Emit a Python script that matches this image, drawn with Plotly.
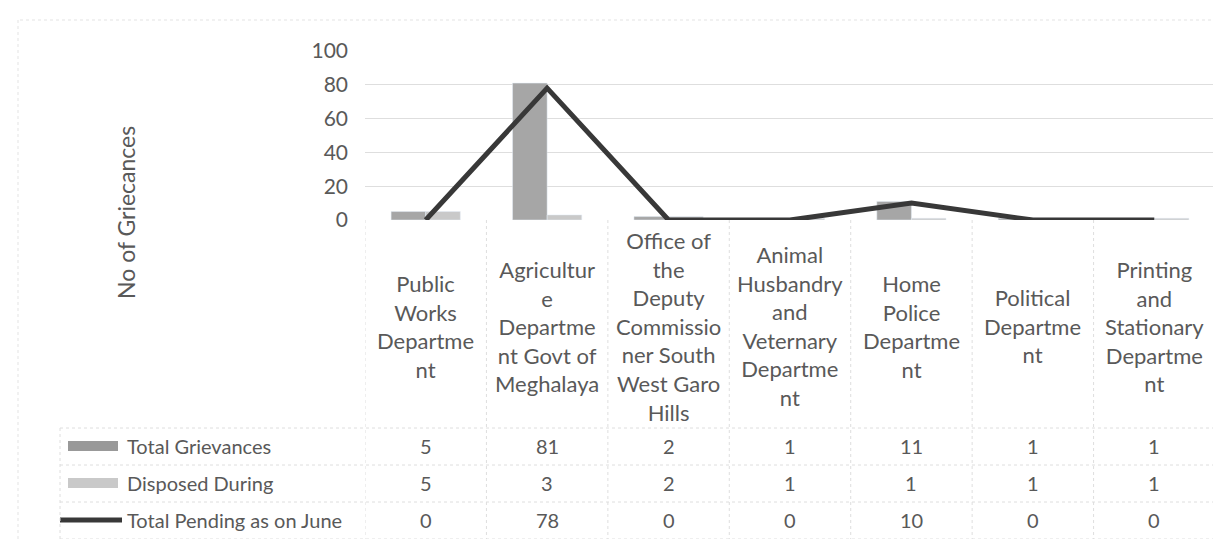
import plotly.graph_objects as go

categories = [
    "Public<br>Works<br>Departme<br>nt",
    "Agricultur<br>e<br>Departme<br>nt Govt of<br>Meghalaya",
    "Office of<br>the<br>Deputy<br>Commissio<br>ner South<br>West Garo<br>Hills",
    "Animal<br>Husbandry<br>and<br>Veternary<br>Departme<br>nt",
    "Home<br>Police<br>Departme<br>nt",
    "Political<br>Departme<br>nt",
    "Printing<br>and<br>Stationary<br>Departme<br>nt",
]
total_grievances = [5, 81, 2, 1, 11, 1, 1]
disposed_during = [5, 3, 2, 1, 1, 1, 1]
total_pending = [0, 78, 0, 0, 10, 0, 0]
series_names = ["Total Grievances", "Disposed During", "Total Pending as on June"]
y_ticks = [0, 20, 40, 60, 80, 100]

W, H = 1221, 539
L, R, T, B = 357, 1207, 43, 212  # plot area pixel bounds
FONT = "Lato, Calibri, Carlito, sans-serif"
TXT = "#595959"
GRID = "#dedede"
C_TOTAL = "#a6a6a6"
C_DISP = "#c9c9c9"
C_LINE = "#383838"

def px(xpix):
    return (xpix - L) / (R - L)

def py(ypix):
    return (B - ypix) / (B - T)

xs = list(range(len(categories)))

fig = go.Figure()
fig.add_trace(go.Bar(x=xs, y=total_grievances, name=series_names[0], marker_color=C_TOTAL))
fig.add_trace(go.Bar(x=xs, y=disposed_during, name=series_names[1], marker_color=C_DISP))
fig.add_trace(go.Scatter(x=xs, y=total_pending, name=series_names[2], mode="lines",
                         line=dict(color=C_LINE, width=5)))

shapes = []
annotations = []

# category labels
for i, c in enumerate(categories):
    annotations.append(dict(x=i, y=py(318), xref="x", yref="paper", text=c, showarrow=False,
                            xanchor="center", yanchor="middle", align="center",
                            font=dict(family=FONT, size=22, color=TXT)))

# table rows
row_y = [438, 475, 512]
row_vals = [total_grievances, disposed_during, total_pending]
for r, (yy, vals) in enumerate(zip(row_y, row_vals)):
    for i, v in enumerate(vals):
        annotations.append(dict(x=i, y=py(yy), xref="x", yref="paper", text=str(v), showarrow=False,
                                xanchor="center", yanchor="middle",
                                font=dict(family=FONT, size=20, color=TXT)))
    annotations.append(dict(x=px(117), y=py(yy), xref="paper", yref="paper", text=series_names[r],
                            showarrow=False, xanchor="left", yanchor="middle",
                            font=dict(family=FONT, size=20, color=TXT)))

# legend keys
shapes.append(dict(type="rect", xref="paper", yref="paper", x0=px(60), x1=px(110),
                   y0=py(433), y1=py(443), fillcolor="#999999", line=dict(width=0)))
shapes.append(dict(type="rect", xref="paper", yref="paper", x0=px(60), x1=px(110),
                   y0=py(470), y1=py(480), fillcolor=C_DISP, line=dict(width=0)))
shapes.append(dict(type="line", xref="paper", yref="paper", x0=px(52), x1=px(114),
                   y0=py(512), y1=py(512), line=dict(color=C_LINE, width=5)))

# table grid lines
for yy in [420, 457, 494, 531]:
    shapes.append(dict(type="line", xref="paper", yref="paper", x0=px(52), x1=px(R),
                       y0=py(yy), y1=py(yy), line=dict(color=GRID, width=1, dash="dot")))
shapes.append(dict(type="line", xref="paper", yref="paper", x0=px(52), x1=px(52),
                   y0=py(420), y1=py(531), line=dict(color=GRID, width=1, dash="dot")))
for k in range(len(categories) + 1):
    shapes.append(dict(type="line", xref="x", yref="paper", x0=k - 0.5, x1=k - 0.5,
                       y0=0, y1=py(531), line=dict(color=GRID, width=1, dash="dot")))

# faint outer chart border (top and left)
shapes.append(dict(type="line", xref="paper", yref="paper", x0=px(12), x1=px(1215),
                   y0=py(12), y1=py(12), line=dict(color="#e3e3e3", width=1, dash="dot")))
shapes.append(dict(type="line", xref="paper", yref="paper", x0=px(10), x1=px(10),
                   y0=py(12), y1=py(536), line=dict(color="#e3e3e3", width=1, dash="dot")))

# y axis title
annotations.append(dict(x=px(118), y=py(205), xref="paper", yref="paper", text="No of Griecances",
                        showarrow=False, textangle=-90, xanchor="center", yanchor="middle",
                        font=dict(family=FONT, size=23, color=TXT)))

fig.update_layout(
    width=W, height=H, autosize=False,
    margin=dict(l=L, r=W - R, t=T, b=H - B, pad=0),
    paper_bgcolor="white", plot_bgcolor="white",
    barmode="group", bargap=0.43, bargroupgap=0,
    showlegend=False,
    shapes=shapes, annotations=annotations,
    font=dict(family=FONT, color=TXT),
)
fig.update_xaxes(range=[-0.5, len(categories) - 0.5], showticklabels=False, showgrid=False,
                 zeroline=False, showline=False, ticks="")
fig.update_yaxes(range=[0, 100], tickvals=y_ticks, showgrid=True, gridcolor=GRID, gridwidth=1,
                 zeroline=False, showline=False, ticks="", ticklabelstandoff=16,
                 tickfont=dict(family=FONT, size=21, color=TXT))

fig.write_html("out.html")
